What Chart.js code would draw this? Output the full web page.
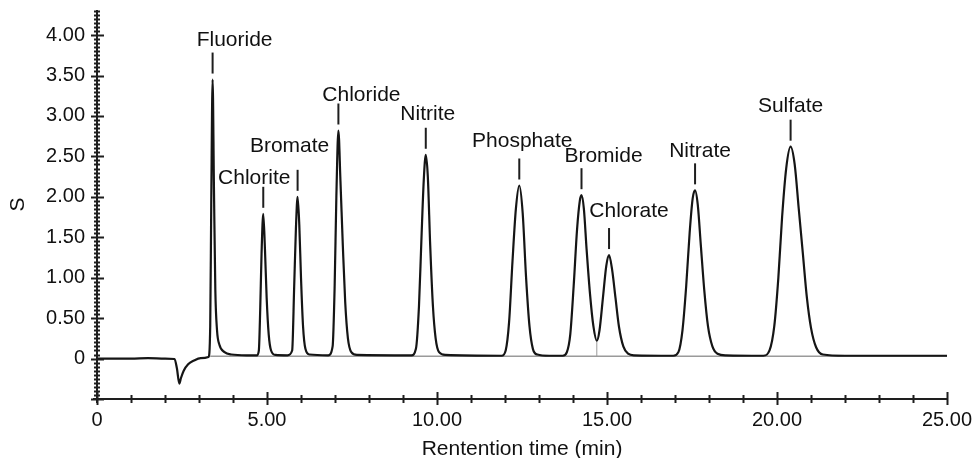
<!DOCTYPE html>
<html>
<head>
<meta charset="utf-8">
<script src="https://cdn.jsdelivr.net/npm/chart.js@4.4.0/dist/chart.umd.min.js"></script>
<style>
  body { margin: 0; background: #fff; }
  #wrap { width: 974px; height: 458px; }
</style>
</head>
<body>
<div id="wrap"><canvas id="chromChart"></canvas></div>
<script>
// trace (min, S)
const traceTime = [
  0.00, 1.00, 1.50, 2.00, 2.28, 2.35, 2.42, 2.47, 2.55, 2.68, 2.85, 3.05,
  3.28, 3.33, 3.36, 3.40, 3.44, 3.48, 3.53, 3.60, 3.75, 3.95, 4.40,
  4.70, 4.76, 4.80, 4.84, 4.89, 4.94, 4.99, 5.05, 5.12, 5.25,
  5.60, 5.74, 5.80, 5.85, 5.90, 5.95, 6.00, 6.06, 6.13, 6.25,
  6.80, 6.93, 6.99, 7.04, 7.10, 7.16, 7.23, 7.30, 7.38, 7.48, 7.65,
  9.25, 9.38, 9.47, 9.54, 9.61, 9.67, 9.73, 9.80, 9.88, 9.96, 10.06, 10.25,
  11.90, 12.02, 12.12, 12.22, 12.32, 12.42, 12.52, 12.62, 12.72, 12.82, 12.95, 13.30,
  13.70, 13.82, 13.92, 14.02, 14.12, 14.20, 14.25, 14.32, 14.40, 14.50, 14.60, 14.70,
  14.78, 14.88, 14.98, 15.06, 15.15, 15.25, 15.35, 15.48, 15.62, 15.80,
  16.95, 17.10, 17.22, 17.33, 17.43, 17.52, 17.59, 17.67, 17.76, 17.86, 17.97, 18.10, 18.25, 18.50,
  19.60, 19.78, 19.92, 20.04, 20.15, 20.27, 20.40, 20.52, 20.64, 20.76, 20.88, 21.00, 21.15, 21.35,
  22.00, 25.00
];
const traceSignal = [
  0.000, 0.000, 0.005, 0.000, -0.005, -0.12, -0.31, -0.24, -0.15, -0.07, -0.025, 0.005,
  0.02, 0.40, 1.90, 3.45, 2.10, 0.85, 0.35, 0.17, 0.08, 0.05, 0.04,
  0.04, 0.10, 0.60, 1.30, 1.79, 1.35, 0.75, 0.30, 0.10, 0.045,
  0.04, 0.10, 0.90, 1.60, 2.00, 1.65, 1.00, 0.40, 0.12, 0.05,
  0.04, 0.15, 0.90, 2.00, 2.82, 2.20, 1.40, 0.70, 0.25, 0.08, 0.045,
  0.04, 0.12, 0.65, 1.45, 2.20, 2.52, 2.25, 1.40, 0.65, 0.25, 0.08, 0.045,
  0.035, 0.10, 0.45, 1.20, 1.85, 2.14, 1.80, 1.00, 0.40, 0.12, 0.05, 0.035,
  0.035, 0.08, 0.30, 0.90, 1.60, 1.95, 2.02, 1.85, 1.35, 0.80, 0.40, 0.22,
  0.35, 0.75, 1.15, 1.28, 1.10, 0.75, 0.40, 0.15, 0.06, 0.04,
  0.035, 0.08, 0.35, 0.90, 1.55, 1.98, 2.08, 1.90, 1.40, 0.85, 0.40, 0.15, 0.06, 0.04,
  0.035, 0.10, 0.40, 1.00, 1.75, 2.35, 2.62, 2.40, 1.85, 1.30, 0.75, 0.38, 0.14, 0.05,
  0.035, 0.035
];

const peakNames = ["Fluoride", "Chlorite", "Bromate", "Chloride", "Nitrite",
                   "Phosphate", "Bromide", "Chlorate", "Nitrate", "Sulfate"];
const peakTimes = [3.40, 4.89, 5.90, 7.10, 9.67, 12.42, 14.25, 15.06, 17.59, 20.40];
const peakHeights = [3.45, 1.79, 2.00, 2.82, 2.52, 2.14, 2.02, 1.28, 2.08, 2.62];

const xTickLabels = ["0", "5.00", "10.00", "15.00", "20.00", "25.00"];
const yTickLabels = ["0", "0.50", "1.00", "1.50", "2.00", "2.50", "3.00", "3.50", "4.00"];

// integration baseline and the drop line between bromide and chlorate
const baselineStart = 3.33;
const baselineLevel = 0.03;
const dropTime = 14.70;
const dropTop = 0.22;

// text offset from each peak top, px [dx, dy to baseline]
const labelNudge = [[22, -34], [-9, -30], [-8, -45], [23, -30], [2, -35],
                    [3, -38], [22, -33], [20, -38], [5, -33], [0, -35]];

const fontFam = "'Liberation Sans', Arial, Helvetica, sans-serif";

const axisPlugin = {
  id: 'chromAxes',
  beforeDatasetsDraw(chart) {
    const ctx = chart.ctx;
    const xs = chart.scales.x, ys = chart.scales.y;
    ctx.save();
    ctx.strokeStyle = '#9a9a9a';
    ctx.lineWidth = 1.5;
    ctx.beginPath();
    ctx.moveTo(xs.getPixelForValue(baselineStart), ys.getPixelForValue(baselineLevel));
    ctx.lineTo(xs.getPixelForValue(25), ys.getPixelForValue(baselineLevel));
    ctx.stroke();
    ctx.lineWidth = 1;
    ctx.beginPath();
    ctx.moveTo(xs.getPixelForValue(dropTime), ys.getPixelForValue(dropTop));
    ctx.lineTo(xs.getPixelForValue(dropTime), ys.getPixelForValue(baselineLevel));
    ctx.stroke();
    ctx.restore();
  },
  afterDatasetsDraw(chart) {
    const ctx = chart.ctx;
    const xs = chart.scales.x, ys = chart.scales.y;
    const area = chart.chartArea;
    ctx.save();
    ctx.strokeStyle = '#1e1e1e';
    ctx.lineWidth = 2;

    // axes
    ctx.beginPath();
    ctx.moveTo(area.left, area.top);
    ctx.lineTo(area.left, area.bottom + 4);
    ctx.moveTo(area.left - 4, area.bottom);
    ctx.lineTo(area.right, area.bottom);
    ctx.stroke();

    // y ticks every 0.05, long ones every 0.5
    ctx.beginPath();
    for (let i = -10; i <= 86; i++) {
      const py = Math.round(ys.getPixelForValue(i * 0.05)) + 0.5;
      if (py < area.top) continue;
      if (i % 10 === 0) {
        ctx.moveTo(area.left - 6, py); ctx.lineTo(area.left + 7, py);
      } else {
        ctx.moveTo(area.left - 3, py); ctx.lineTo(area.left + 3, py);
      }
    }
    // x ticks every minute, long ones every 5
    for (let t = 0; t <= 25; t++) {
      const px = Math.round(xs.getPixelForValue(t)) + 0.5;
      if (t % 5 === 0) {
        ctx.moveTo(px, area.bottom - 7); ctx.lineTo(px, area.bottom + 6);
      } else {
        ctx.moveTo(px, area.bottom - 4); ctx.lineTo(px, area.bottom + 4);
      }
    }
    ctx.stroke();

    // peak labels
    ctx.font = '21px ' + fontFam;
    ctx.fillStyle = '#111';
    ctx.textAlign = 'center';
    ctx.textBaseline = 'alphabetic';
    ctx.lineWidth = 2;
    peakNames.forEach(function(name, i) {
      const px = xs.getPixelForValue(peakTimes[i]);
      const py = ys.getPixelForValue(peakHeights[i]);
      ctx.beginPath();
      ctx.moveTo(px, py - 6);
      ctx.lineTo(px, py - 27);
      ctx.stroke();
      ctx.fillText(name, px + labelNudge[i][0], py + labelNudge[i][1]);
    });
    ctx.restore();
  }
};

const points = traceTime.map(function(t, i) { return { x: t, y: traceSignal[i] }; });

new Chart(document.getElementById('chromChart'), {
  type: 'line',
  data: {
    datasets: [{
      data: points,
      borderColor: '#151515',
      borderWidth: 2.2,
      pointRadius: 0,
      fill: false,
      cubicInterpolationMode: 'monotone'
    }]
  },
  options: {
    responsive: true,
    maintainAspectRatio: false,
    animation: false,
    layout: { padding: { top: 10, right: 27, left: 0, bottom: 0 } },
    plugins: { legend: { display: false }, tooltip: { enabled: false } },
    scales: {
      x: {
        type: 'linear',
        min: 0,
        max: 25,
        grid: { display: false, drawTicks: false },
        border: { display: false },
        afterBuildTicks: function(scale) {
          scale.ticks = xTickLabels.map(function(l, i) { return { value: i * 5 }; });
        },
        afterFit: function(scale) {
          scale.height = 59;
          scale.paddingLeft = 0;
          scale.paddingRight = 0;
        },
        ticks: {
          padding: 9,
          maxRotation: 0,
          color: '#111',
          font: { family: fontFam, size: 20 },
          callback: function(v) { return xTickLabels[Math.round(v / 5)]; }
        },
        title: {
          display: true,
          text: 'Rentention time (min)',
          color: '#111',
          font: { family: fontFam, size: 21, lineHeight: 0.8 },
          padding: { top: 0, bottom: 0 }
        }
      },
      y: {
        min: -0.5,
        max: 4.31,
        grid: { display: false, drawTicks: false },
        border: { display: false },
        afterBuildTicks: function(scale) {
          scale.ticks = yTickLabels.map(function(l, i) { return { value: i * 0.5 }; });
        },
        afterFit: function(scale) {
          scale.width = 97;
          scale.paddingTop = 0;
          scale.paddingBottom = 0;
        },
        ticks: {
          padding: 12,
          color: '#111',
          font: { family: fontFam, size: 20 },
          callback: function(v) { return yTickLabels[Math.round(v / 0.5)]; }
        },
        title: {
          display: true,
          text: 'S',
          color: '#111',
          font: { family: fontFam, size: 21 },
          padding: { top: 6, bottom: 0 }
        }
      }
    }
  },
  plugins: [axisPlugin]
});
</script>
</body>
</html>
